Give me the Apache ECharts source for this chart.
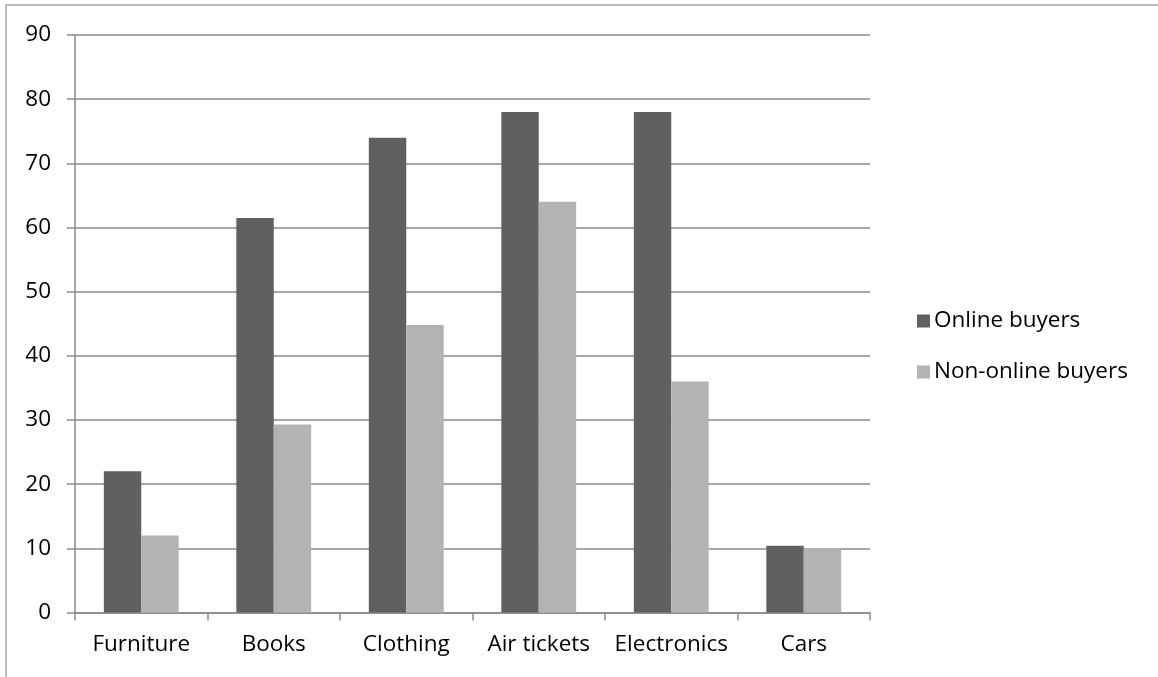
<!DOCTYPE html>
<html>
<head>
<meta charset="utf-8">
<script src="https://cdn.jsdelivr.net/npm/echarts@6/dist/echarts.min.js"></script>
<style>
  html, body { margin: 0; padding: 0; background: #ffffff; }
  #chart { width: 1158px; height: 677px; }
</style>
</head>
<body>
<div id="chart"></div>
<script>
// Product categories on the x axis
const categories = ['Furniture', 'Books', 'Clothing', 'Air tickets', 'Electronics', 'Cars'];

// Share of respondents per category (%)
const onlineBuyers = [22, 61.5, 74, 78, 78, 10.4];
const nonOnlineBuyers = [12, 29.3, 44.8, 64, 36, 10];

// Value axis range
const yMin = 0;
const yMax = 90;
const yStep = 10;

const FONT = '"Open Sans", "Noto Sans", sans-serif';
const AXIS_GREY = '#8a8a8a';

const chart = echarts.init(document.getElementById('chart'), null, { renderer: 'canvas' });

chart.setOption({
  animation: false,
  backgroundColor: '#ffffff',
  textStyle: { fontFamily: FONT },
  graphic: [{
    type: 'rect',
    silent: true,
    shape: { x: 6, y: 5, width: 1300, height: 800 },
    style: { fill: 'none', stroke: '#a6a6a6', lineWidth: 1.5 }
  }],
  grid: { left: 75, right: 288, top: 35, bottom: 64.5, containLabel: false },
  legend: {
    orient: 'vertical',
    left: 912,
    top: 303,
    icon: 'rect',
    itemWidth: 13,
    itemHeight: 13,
    itemGap: 25,
    textStyle: { fontFamily: FONT, fontSize: 22.5, color: '#000000', lineHeight: 26, padding: [0, 0, 0, -1] },
    data: ['Online buyers', 'Non-online buyers']
  },
  xAxis: {
    type: 'category',
    data: categories,
    boundaryGap: true,
    axisLine: { show: true, lineStyle: { color: AXIS_GREY, width: 1.5 } },
    axisTick: { show: true, length: 8, inside: false, alignWithLabel: false, lineStyle: { color: AXIS_GREY, width: 1.5 } },
    axisLabel: { color: '#000000', fontFamily: FONT, fontSize: 22.5, margin: 21, interval: 0 },
    splitLine: { show: false }
  },
  yAxis: {
    type: 'value',
    min: yMin,
    max: yMax,
    interval: yStep,
    axisLine: { show: true, lineStyle: { color: AXIS_GREY, width: 1.5 } },
    axisTick: { show: true, length: 8, inside: false, lineStyle: { color: AXIS_GREY, width: 1.5 } },
    axisLabel: { color: '#000000', fontFamily: FONT, fontSize: 22.5, margin: 24 },
    splitLine: { show: true, lineStyle: { color: AXIS_GREY, width: 1.5 } }
  },
  series: [
    {
      name: 'Online buyers',
      type: 'bar',
      data: onlineBuyers,
      barGap: '0%',
      barCategoryGap: '43.5%',
      itemStyle: { color: '#606060' }
    },
    {
      name: 'Non-online buyers',
      type: 'bar',
      data: nonOnlineBuyers,
      barGap: '0%',
      barCategoryGap: '43.5%',
      itemStyle: { color: '#b3b3b3' }
    }
  ]
});
</script>
</body>
</html>
